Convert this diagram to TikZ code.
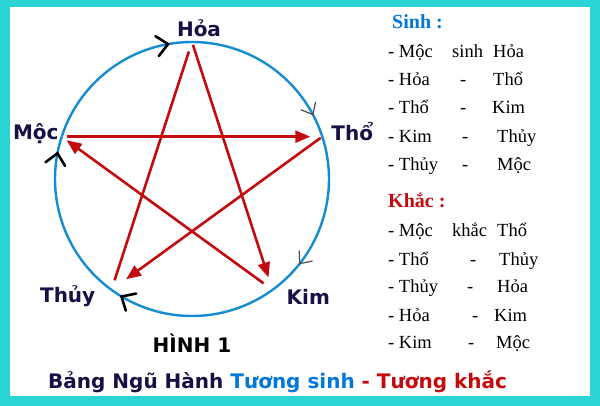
\documentclass[tikz,border=0pt]{standalone}
\usepackage{fontspec}
\setmainfont{Liberation Serif}
\newfontfamily\labelfont{DejaVu Sans}
\usepackage{xcolor}
\usepackage{tikz}
\usetikzlibrary{calc}
\usetikzlibrary{positioning}
\usetikzlibrary{arrows.meta}
\usetikzlibrary{decorations.markings}

\definecolor{framecyan}{RGB}{42,212,212}
\definecolor{ringblue}{RGB}{20,140,210}
\definecolor{khacred}{RGB}{195,10,15}
\definecolor{navyink}{RGB}{22,16,70}
\definecolor{sinhblue}{RGB}{0,120,215}

\begin{document}
\begin{tikzpicture}[
    x = 1pt,
    y = 1pt,
    elemf/.style = {
      font=\labelfont\bfseries\fontsize{20}{24}\selectfont,
      text=navyink,
      inner sep=0pt
    },
    headf/.style = {
      font=\bfseries\fontsize{20}{24}\selectfont,
      anchor=base west,
      inner sep=0pt
    },
    rowf/.style = {
      font=\fontsize{18.5}{22}\selectfont,
      anchor=base west,
      inner sep=0pt
    },
    khacf/.style = {
      draw=khacred,
      line width=2.6pt,
      -{Triangle[length=15pt,width=12pt]}
    },
    sinhf/.style = {
      draw=ringblue,
      line width=2.4pt,
      postaction={decorate},
      decoration={markings, mark=at position #1 with
        {\draw[black, line width=2.6pt, line cap=round]
           (-11pt,10pt) -- (0pt,0pt) -- (-11pt,-10pt);}}
    },
    sinhthinf/.style = {
      draw=ringblue,
      line width=2.4pt,
      postaction={decorate},
      decoration={markings, mark=at position #1 with
        {\draw[black!70, line width=1.2pt]
           (-10pt,8.5pt) -- (0pt,0pt) -- (-10pt,-8.5pt);}}
    }
  ]
    % frame
    \fill[framecyan] (0,0) rectangle (600,406);
    \fill[white] (10,10) rectangle (590,399);
    \useasboundingbox (0,0) rectangle (600,406);

    % the five elements on the ring
    \coordinate (c) at (192,227);
    \coordinate (hoa) at ($(c)+(90:137)$);
    \coordinate (tho) at ($(c)+(18:137)$);
    \coordinate (kim) at ($(c)+(-54:137)$);
    \coordinate (thuy) at ($(c)+(234:137)$);
    \coordinate (moc) at ($(c)+(162:137)$);

    \node[elemf, anchor=base] (lhoa) at ([shift={(7,5)}]hoa) {Hỏa};
    \node[elemf, anchor=base west] (ltho) at ([shift={(9,-4)}]tho) {Thổ};
    \node[elemf, anchor=base west] (lkim) at ([shift={(14,-15)}]kim) {Kim};
    \node[elemf, anchor=base east] (lthuy) at ([shift={(-16,-13)}]thuy) {Thủy};
    \node[elemf, anchor=base east] (lmoc) at ([shift={(-3,-3)}]moc) {Mộc};

    % sinh: the ring
    \draw[sinhf=0.86] (moc) arc[start angle=162, end angle=90, radius=137];
    \draw[sinhthinf=0.86] (hoa) arc[start angle=90, end angle=18, radius=137];
    \draw[sinhthinf=0.78] (tho) arc[start angle=18, end angle=-54, radius=137];
    \draw[sinhf=0.93] (kim) arc[start angle=-54, end angle=-126, radius=137];
    \draw[sinhf=0.90] (thuy) arc[start angle=234, end angle=162, radius=137];

    % khac: the star
    \draw[khacf, shorten <=5pt, shorten >=12pt] (moc) -- (tho);
    \draw[khacf, shorten <=2pt, shorten >=18pt] (tho) -- (thuy);
    \draw[khacf, -, shorten <=10pt, shorten >=10pt] (thuy) -- (hoa);
    \draw[khacf, shorten <=3pt, shorten >=13pt] (hoa) -- (kim);
    \draw[khacf, shorten <=11pt, shorten >=6pt] (kim) -- (moc);

    \node[elemf, text=black, anchor=base] (hinh) at ([yshift=-174pt]c) {HÌNH 1};
    \node[elemf, anchor=base west] (title) at (48,17)
      {Bảng Ngũ Hành {\color{sinhblue}Tương sinh} {\color{khacred}- Tương khắc}};

    % right column
    \node[headf, text=sinhblue] (sinh) at (392,377) {Sinh :};
    \foreach \i/\yy/\a/\m/\mx/\b/\bx in {
        1/348/Mộc/sinh/452/Hỏa/493,
        2/320/Hỏa/-/460/Thổ/493,
        3/292/Thổ/-/460/Kim/492,
        4/263/Kim/-/462/Thủy/497,
        5/235/Thủy/-/462/Mộc/497}
    {
      \node[rowf] (sinh\i a) at (388,\yy) {- \a};
      \node[rowf] (sinh\i m) at (\mx,\yy) {\m};
      \node[rowf] (sinh\i b) at (\bx,\yy) {\b};
    }

    \node[headf, text=khacred] (khac) at (388,198) {Khắc :};
    \foreach \i/\yy/\a/\m/\mx/\b/\bx in {
        1/169/Mộc/khắc/452/Thổ/497,
        2/140/Thổ/-/470/Thủy/499,
        3/113/Thủy/-/467/Hỏa/497,
        4/84/Hỏa/-/472/Kim/494,
        5/57/Kim/-/468/Mộc/496}
    {
      \node[rowf] (khac\i a) at (388,\yy) {- \a};
      \node[rowf] (khac\i m) at (\mx,\yy) {\m};
      \node[rowf] (khac\i b) at (\bx,\yy) {\b};
    }
  \end{tikzpicture}
\end{document}
